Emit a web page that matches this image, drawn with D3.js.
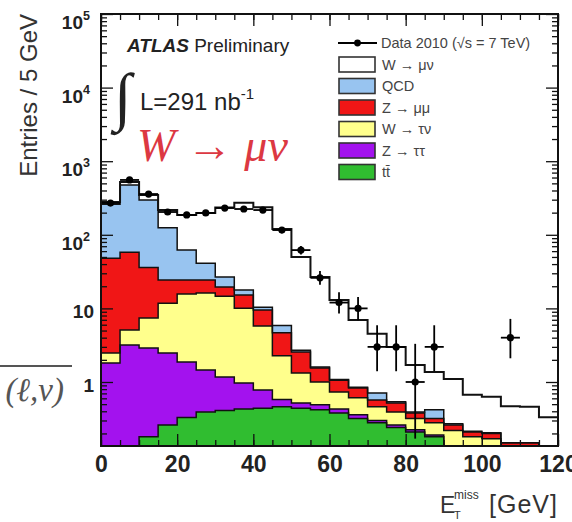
<!DOCTYPE html>
<html>
<head>
<meta charset="utf-8">
<script src="https://cdn.jsdelivr.net/npm/d3@7/dist/d3.min.js"></script>
<style>
html, body { margin: 0; padding: 0; background: #ffffff; }
svg { display: block; font-family: "Liberation Sans", Arial, Helvetica, sans-serif; }
</style>
</head>
<body>
<svg id="chart" width="572" height="522"></svg>
<script>
// Missing transverse energy in 5 GeV bins, 0 to 120 GeV (lower bin edges)
const binLow = [0, 5, 10, 15, 20, 25, 30, 35, 40, 45, 50, 55, 60, 65, 70, 75, 80, 85, 90, 95, 100, 105, 110, 115];
const binWidth = 5;

// Expected entries per bin for each process
const ttbar   = [0.05, 0.10, 0.18, 0.26, 0.33, 0.39, 0.41, 0.43, 0.44, 0.46, 0.44, 0.42, 0.38, 0.32, 0.28, 0.24, 0.21, 0.18, 0.09, 0.06, 0.04, 0.03, 0.02, 0.01];
const ztautau = [1.76, 3.08, 2.72, 2.22, 1.54, 1.07, 0.76, 0.54, 0.34, 0.12, 0.08, 0.07, 0.05, 0.04, 0.02, 0.02, 0.015, 0.01, 0.01, 0.01, 0.005, 0.005, 0.005, 0.002];
const wtaunu  = [0.67, 1.92, 4.5, 9.3, 13.8, 14.7, 13.5, 9.1, 5.0, 1.7, 0.80, 0.51, 0.30, 0.25, 0.16, 0.13, 0.095, 0.09, 0.12, 0.11, 0.125, 0.065, 0.045, 0.02];
const zmumu   = [45.5, 52.9, 28.6, 12.5, 8.6, 8.1, 4.8, 5.1, 3.7, 2.4, 1.24, 0.55, 0.33, 0.22, 0.11, 0.13, 0.06, 0.04, 0.04, 0.03, 0.03, 0.05, 0.08, 0.03];
const qcd     = [212, 417, 261, 100, 37.7, 16.7, 7.2, 2.6, 0.9, 1.18, 0.14, 0.05, 0.02, 0.02, 0.14, 0.02, 0.01, 0.1, 0.01, 0.005, 0.005, 0, 0, 0];
const wmunu   = [19, 47, 50, 93, 124, 157, 208, 254, 226, 114, 47.3, 25.1, 11.9, 6.1, 3.8, 2.45, 1.31, 0.95, 0.83, 0.455, 0.425, 0.32, 0.31, 0.27];

// Observed events with their asymmetric Poisson uncertainties
const dataCounts  = [270, 556, 358, 204, 186, 198, 231, 224, 217, 116, 62, 26, 12, 10, 3, 3, 1, 3, 0, 0, 0, 4, 0, 0];
const dataErrLow  = [16.4, 23.6, 18.9, 14.3, 13.6, 14.1, 15.2, 15.0, 14.7, 10.8, 7.9, 5.1, 3.5, 3.1, 1.6, 1.6, 0.83, 1.6, 0, 0, 0, 1.9, 0, 0];
const dataErrHigh = [16.9, 24.1, 19.4, 14.8, 14.1, 14.6, 15.7, 15.5, 15.2, 11.3, 8.4, 6.1, 4.6, 4.3, 2.9, 2.9, 2.3, 2.9, 0, 0, 0, 3.2, 0, 0];

// Axis ticks
const xTickValues = [0, 20, 40, 60, 80, 100, 120];
const xTickLabels = ["0", "20", "40", "60", "80", "100", "120"];
const xMinorTicks = [0, 5, 10, 15, 20, 25, 30, 35, 40, 45, 50, 55, 60, 65, 70, 75, 80, 85, 90, 95, 100, 105, 110, 115, 120];
const yTickValues = [1, 10, 100, 1000, 10000, 100000];
const yTickBase   = ["1", "10", "10", "10", "10", "10"];
const yTickExp    = ["", "", "2", "3", "4", "5"];

// Stack order, bottom to top, and legend entries (top to bottom)
const processKeys   = ["ttbar", "ztautau", "wtaunu", "zmumu", "qcd", "wmunu"];
const processColors = { wmunu: "#ffffff", qcd: "#98c4f0", zmumu: "#f01616", wtaunu: "#ffff8c", ztautau: "#a312ee", ttbar: "#30bd30" };
const legendKeys    = ["wmunu", "qcd", "zmumu", "wtaunu", "ztautau", "ttbar"];
const legendLabels  = ["W \u2192 \u03bc\u03bd", "QCD", "Z \u2192 \u03bc\u03bc", "W \u2192 \u03c4\u03bd", "Z \u2192 \u03c4\u03c4", "t\u0074\u0304"];
const dataLegendLabel = "Data 2010 (\u221as = 7 TeV)";

const SERIF = "'Liberation Serif', 'DejaVu Serif', 'Times New Roman', serif";

const svg = d3.select("#chart");
const frame = { left: 101, right: 558, top: 14, bottom: 446 };

const x = d3.scaleLinear().domain([0, 120]).range([frame.left, frame.right]);
const y = d3.scaleLog().domain([0.135, 1e5]).range([frame.bottom, frame.top]).clamp(true);
const yv = v => y(Math.max(v, 1e-4));

svg.append("defs").append("clipPath").attr("id", "plotClip")
  .append("rect")
  .attr("x", frame.left).attr("y", frame.top)
  .attr("width", frame.right - frame.left).attr("height", frame.bottom - frame.top);

// Stacked histograms
const table = binLow.map((lo, i) => ({
  lo, ttbar: ttbar[i], ztautau: ztautau[i], wtaunu: wtaunu[i],
  zmumu: zmumu[i], qcd: qcd[i], wmunu: wmunu[i]
}));
const stacked = d3.stack().keys(processKeys)(table);

const stepPoints = s => {
  const pts = s.map((d, i) => ({ x: binLow[i], lo: d[0], hi: d[1] }));
  const last = pts[pts.length - 1];
  pts.push({ x: last.x + binWidth, lo: last.lo, hi: last.hi });
  return pts;
};

const area = d3.area().curve(d3.curveStepAfter)
  .x(d => x(d.x)).y0(d => yv(d.lo)).y1(d => yv(d.hi));
const outline = d3.line().curve(d3.curveStepAfter)
  .x(d => x(d.x)).y(d => yv(d.hi));

const histG = svg.append("g").attr("clip-path", "url(#plotClip)");
histG.selectAll("path.fill").data(stacked).join("path")
  .attr("class", "fill")
  .attr("d", s => area(stepPoints(s)))
  .attr("fill", s => processColors[s.key])
  .attr("stroke", "none");
histG.selectAll("path.edge").data(stacked).join("path")
  .attr("class", "edge")
  .attr("d", s => outline(stepPoints(s)))
  .attr("fill", "none")
  .attr("stroke", "#111")
  .attr("stroke-width", s => s.key === "wmunu" ? 2 : 1.5);

// Data points with error bars
const dataRows = binLow.map((lo, i) => ({ lo, n: dataCounts[i], el: dataErrLow[i], eh: dataErrHigh[i] }))
  .filter(d => d.n > 0);
const dataG = svg.append("g").attr("clip-path", "url(#plotClip)");
dataG.selectAll("line.xerr").data(dataRows).join("line")
  .attr("class", "xerr")
  .attr("x1", d => x(d.lo)).attr("x2", d => x(d.lo + binWidth))
  .attr("y1", d => y(d.n)).attr("y2", d => y(d.n))
  .attr("stroke", "#000").attr("stroke-width", 1.8);
dataG.selectAll("line.yerr").data(dataRows).join("line")
  .attr("class", "yerr")
  .attr("x1", d => x(d.lo + binWidth / 2)).attr("x2", d => x(d.lo + binWidth / 2))
  .attr("y1", d => yv(d.n - d.el)).attr("y2", d => yv(d.n + d.eh))
  .attr("stroke", "#000").attr("stroke-width", 1.8);
dataG.selectAll("circle").data(dataRows).join("circle")
  .attr("cx", d => x(d.lo + binWidth / 2)).attr("cy", d => y(d.n))
  .attr("r", 3.6).attr("fill", "#000");

// Axes: ticks on all four sides pointing inward
function styleAxis(g) {
  g.select(".domain").remove();
  g.selectAll(".tick line").attr("stroke", "#111").attr("stroke-width", 1.3);
}
const yMinor = y.ticks().filter(v => !yTickValues.includes(v));

svg.append("g").attr("transform", `translate(0,${frame.bottom})`)
  .call(d3.axisBottom(x).tickValues(xMinorTicks).tickSize(-6).tickFormat("")).call(styleAxis);
svg.append("g").attr("transform", `translate(0,${frame.top})`)
  .call(d3.axisTop(x).tickValues(xMinorTicks).tickSize(-6).tickFormat("")).call(styleAxis);
svg.append("g").attr("transform", `translate(0,${frame.top})`)
  .call(d3.axisTop(x).tickValues(xTickValues).tickSize(-12).tickFormat("")).call(styleAxis);
const xAxisG = svg.append("g").attr("transform", `translate(0,${frame.bottom})`)
  .call(d3.axisBottom(x).tickValues(xTickValues).tickSize(-12).tickPadding(10)
    .tickFormat((d, i) => xTickLabels[i]))
  .call(styleAxis);
xAxisG.selectAll(".tick text")
  .attr("font-size", 23).attr("font-weight", "bold").attr("fill", "#222")
  .style("font-family", "'Liberation Sans', Arial, sans-serif");

svg.append("g").attr("transform", `translate(${frame.left},0)`)
  .call(d3.axisLeft(y).tickValues(yMinor).tickSize(-6).tickFormat("")).call(styleAxis);
svg.append("g").attr("transform", `translate(${frame.left},0)`)
  .call(d3.axisLeft(y).tickValues(yTickValues).tickSize(-12).tickFormat("")).call(styleAxis);
svg.append("g").attr("transform", `translate(${frame.right},0)`)
  .call(d3.axisRight(y).tickValues(yMinor).tickSize(-6).tickFormat("")).call(styleAxis);
svg.append("g").attr("transform", `translate(${frame.right},0)`)
  .call(d3.axisRight(y).tickValues(yTickValues).tickSize(-12).tickFormat("")).call(styleAxis);

// Y tick labels (powers of ten)
const yLab = svg.append("g").attr("font-weight", "bold").attr("fill", "#222");
yTickValues.forEach((v, i) => {
  const ty = y(v);
  if (yTickExp[i]) {
    yLab.append("text").attr("x", 83).attr("y", ty + 15)
      .attr("text-anchor", "end").attr("font-size", 19).text(yTickBase[i]);
    yLab.append("text").attr("x", 83).attr("y", ty + 6)
      .attr("text-anchor", "start").attr("font-size", 12.5).text(yTickExp[i]);
  } else {
    yLab.append("text").attr("x", 94).attr("y", ty + 10)
      .attr("text-anchor", "end").attr("font-size", 19).text(yTickBase[i]);
  }
});

// Frame
svg.append("rect")
  .attr("x", frame.left).attr("y", frame.top)
  .attr("width", frame.right - frame.left).attr("height", frame.bottom - frame.top)
  .attr("fill", "none").attr("stroke", "#111").attr("stroke-width", 2);

// Axis titles
svg.append("text")
  .attr("transform", "translate(37,14) rotate(-90)")
  .attr("text-anchor", "end").attr("font-size", 24).attr("fill", "#333")
  .text("Entries / 5 GeV");

const xt = svg.append("g").attr("fill", "#333");
xt.append("text").attr("x", 440).attr("y", 513).attr("font-size", 23).text("E");
xt.append("text").attr("x", 454).attr("y", 519).attr("font-size", 11).text("T");
xt.append("text").attr("x", 454).attr("y", 499).attr("font-size", 12).text("miss");
xt.append("text").attr("x", 489).attr("y", 513).attr("font-size", 25)
  .attr("letter-spacing", 1).text("[GeV]");

// Legend
const lg = svg.append("g");
lg.append("line").attr("x1", 338).attr("x2", 377).attr("y1", 43).attr("y2", 43)
  .attr("stroke", "#000").attr("stroke-width", 1.8);
lg.append("circle").attr("cx", 357.5).attr("cy", 43).attr("r", 3.4).attr("fill", "#000");
lg.append("text").attr("x", 381).attr("y", 48).attr("font-size", 14.5).attr("fill", "#444")
  .text(dataLegendLabel);
const rowY = [64.5, 86, 107.5, 129, 150.5, 172];
legendKeys.forEach((k, i) => {
  lg.append("rect").attr("x", 339).attr("y", rowY[i] - 7.5).attr("width", 36).attr("height", 15)
    .attr("fill", processColors[k]).attr("stroke", "#333").attr("stroke-width", 1.6);
  lg.append("text").attr("x", 382).attr("y", rowY[i] + 5).attr("font-size", 14.5).attr("fill", "#444")
    .text(legendLabels[i]);
});

// Labels inside the plot
const lab = svg.append("g");
const atlas = lab.append("text").attr("x", 127).attr("y", 52).attr("font-size", 19).attr("fill", "#222");
atlas.append("tspan").attr("font-weight", "bold").attr("font-style", "italic").text("ATLAS");
atlas.append("tspan").text(" Preliminary");

lab.append("text").attr("x", 114).attr("y", 118).attr("font-size", 64)
  .style("font-family", SERIF).attr("fill", "#222")
  .text("\u222b");
const lum = lab.append("text").attr("x", 140).attr("y", 110).attr("font-size", 24).attr("fill", "#222");
lum.append("tspan").text("L=291 nb");
lum.append("tspan").attr("font-size", 15).attr("dy", -11).text("-1");

lab.append("text").attr("x", 137).attr("y", 161).attr("font-size", 46)
  .style("font-family", SERIF)
  .attr("font-style", "italic").attr("fill", "#dc3842")
  .text("W \u2192 \u03bc\u03bd");

// Fragment of a neighbouring formula at the left edge
svg.append("line").attr("x1", 0).attr("x2", 72).attr("y1", 366).attr("y2", 366)
  .attr("stroke", "#555").attr("stroke-width", 2);
svg.append("text").attr("x", 64).attr("y", 401).attr("text-anchor", "end")
  .attr("font-size", 33).attr("font-style", "italic").attr("fill", "#555")
  .style("font-family", SERIF)
  .text("(\u2113,\u03bd)");
</script>
</body>
</html>
